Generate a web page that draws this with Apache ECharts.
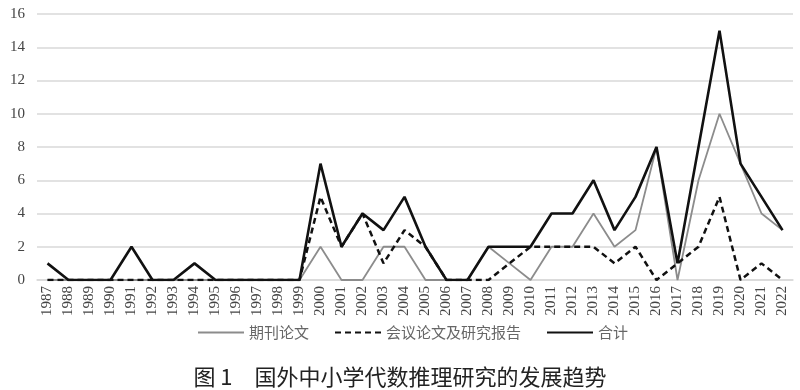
<!DOCTYPE html>
<html><head><meta charset="utf-8">
<script src="https://cdn.jsdelivr.net/npm/echarts@6/dist/echarts.min.js"></script>
<style>html,body{margin:0;padding:0;background:#fff}#c{width:800px;height:390px}</style>
</head><body><div id="c"></div>
<script>
const years = ['1987','1988','1989','1990','1991','1992','1993','1994','1995','1996','1997','1998','1999','2000','2001','2002','2003','2004','2005','2006','2007','2008','2009','2010','2011','2012','2013','2014','2015','2016','2017','2018','2019','2020','2021','2022'];
const journal = [0,0,0,0,0,0,0,0,0,0,0,0,0,2,0,0,2,2,0,0,0,2,1,0,2,2,4,2,3,8,0,6,10,7,4,3];
const conference = [0,0,0,0,0,0,0,0,0,0,0,0,0,5,2,4,1,3,2,0,0,0,1,2,2,2,2,1,2,0,1,2,5,0,1,0];
const total = [1,0,0,0,2,0,0,1,0,0,0,0,0,7,2,4,3,5,2,0,0,2,2,2,4,4,6,3,5,8,1,8,15,7,5,3];
const seriesNames = ['期刊论文','会议论文及研究报告','合计'];
const yTicks = {min:0, max:16, interval:2};
const captionText = '图 1　国外中小学代数推理研究的发展趋势';

const chart = echarts.init(document.getElementById('c'), null, {renderer:'canvas'});
chart.setOption({
  animation:false,
  backgroundColor:'#fff',
  grid:{left:37, right:7, top:14, bottom:110},
  title:{text:captionText, left:'center', top:361,
    textStyle:{fontFamily:'Noto Sans CJK SC', fontSize:22, fontWeight:'normal', color:'#222'}},
  legend:{top:320, left:192, itemWidth:46, itemHeight:10, itemGap:25,
    itemStyle:{opacity:0},
    textStyle:{fontFamily:'Noto Sans CJK SC', fontSize:15, color:'#666'},
    data:seriesNames},
  xAxis:{type:'category', data:years, boundaryGap:true,
    axisLine:{lineStyle:{color:'#d9d9d9', width:1.5}},
    axisTick:{show:false},
    axisLabel:{rotate:90, interval:0, fontFamily:'Liberation Serif', fontSize:15, color:'#444', margin:6}},
  yAxis:{type:'value', min:yTicks.min, max:yTicks.max, interval:yTicks.interval,
    axisLine:{show:false}, axisTick:{show:false},
    splitLine:{lineStyle:{color:'#d9d9d9', width:1.5}},
    axisLabel:{fontFamily:'Liberation Serif', fontSize:15, color:'#444', margin:12}},
  series:[
    {name:seriesNames[0], type:'line', data:journal, symbol:'none', z:2,
      lineStyle:{color:'#8c8c8c', width:1.8}, itemStyle:{color:'#8c8c8c'}},
    {name:seriesNames[1], type:'line', data:conference, symbol:'none', z:3,
      lineStyle:{color:'#111', width:2.5, type:[6,4]}, itemStyle:{color:'#111'}},
    {name:seriesNames[2], type:'line', data:total, symbol:'none', z:4,
      lineStyle:{color:'#111', width:2.6}, itemStyle:{color:'#111'}}
  ]
});
</script></body></html>
